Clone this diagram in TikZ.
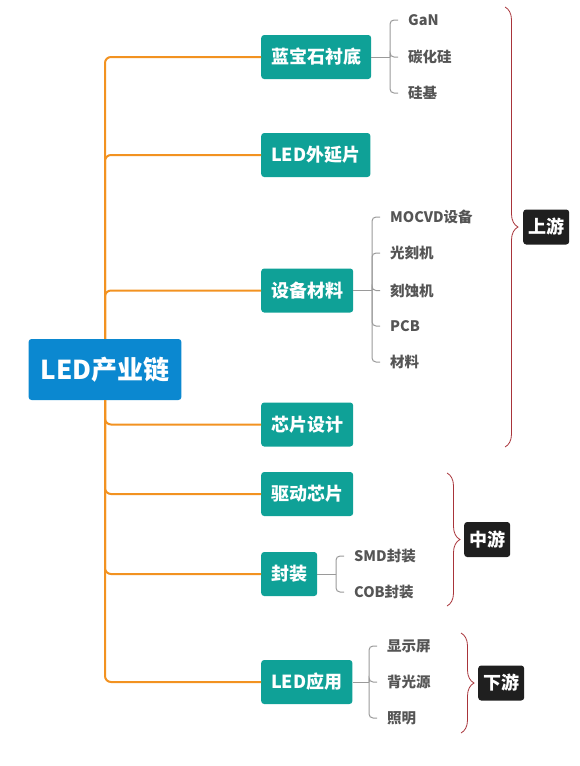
\documentclass[tikz,border=0pt]{standalone}
\usepackage{fontspec}
\setmainfont{Noto Sans CJK SC}
\usetikzlibrary{decorations.pathreplacing}
\definecolor{rootblue}{HTML}{0B88D0}
\definecolor{topicteal}{HTML}{0FA197}
\definecolor{branchorange}{HTML}{F29221}
\definecolor{twiggray}{HTML}{9A9A9A}
\definecolor{leafgray}{HTML}{555555}
\definecolor{bracered}{HTML}{A8343A}
\definecolor{stageblack}{HTML}{1F1F1F}

\begin{document}
\begin{tikzpicture}[x=1pt,y=-1pt,
  root/.style={fill=rootblue,text=white,rounded corners=3pt,minimum height=61pt,inner xsep=12pt,font=\fontsize{26}{28}\selectfont\bfseries},
  topic/.style={fill=topicteal,text=white,rounded corners=3pt,minimum height=44pt,inner xsep=10pt,anchor=west,font=\fontsize{18}{20}\selectfont\bfseries},
  leaf/.style={text=leafgray,anchor=west,inner xsep=10pt,inner ysep=1pt,font=\fontsize{14.5}{16}\selectfont\bfseries},
  stage/.style={fill=stageblack,text=white,rounded corners=3pt,minimum height=35pt,inner xsep=5pt,anchor=west,font=\fontsize{18}{20}\selectfont\bfseries},
  branch/.style={draw=branchorange,line width=2pt,rounded corners=6pt},
  twig/.style={draw=twiggray,line width=1pt,rounded corners=4pt},
  curly/.style={draw=bracered,line width=0.8pt,decorate,decoration={brace,amplitude=13pt}}]
\useasboundingbox (0,0) rectangle (580,766);

% root and topics
\node[root] (chain) at (105,369.5) {LED产业链};
\node[topic] (sapphire) at (261,57) {蓝宝石衬底};
\node[topic] (epi) at (261,155) {LED外延片};
\node[topic] (equip) at (261,290.5) {设备材料};
\node[topic] (chipdesign) at (261,424.5) {芯片设计};
\node[topic] (driver) at (261,494) {驱动芯片};
\node[topic] (package) at (261,574) {封装};
\node[topic] (app) at (261,682) {LED应用};

\foreach \t in {sapphire,epi,equip}
  \draw[branch] (chain.north) |- (\t.west);
\foreach \t in {chipdesign,driver,package,app}
  \draw[branch] (chain.south) |- (\t.west);

% leaves of 蓝宝石衬底
\coordinate (sapphire-j) at (390,57);
\node[leaf] (gan) at (398,20) {GaN};
\node[leaf] (sic) at (398,57) {碳化硅};
\node[leaf] (si) at (398,93) {硅基};
\draw[twig] (sapphire.east) -- (sapphire-j);
\foreach \l in {gan,sic,si}
  \draw[twig] (sapphire-j) |- (\l.west);

% leaves of 设备材料
\coordinate (equip-j) at (372,290.5);
\node[leaf] (mocvd) at (380,217) {MOCVD设备};
\node[leaf] (litho) at (380,253) {光刻机};
\node[leaf] (etch) at (380,290.5) {刻蚀机};
\node[leaf] (pcb) at (380,326) {PCB};
\node[leaf] (mat) at (380,362) {材料};
\draw[twig] (equip.east) -- (equip-j);
\foreach \l in {mocvd,litho,etch,pcb,mat}
  \draw[twig] (equip-j) |- (\l.west);

% leaves of 封装
\coordinate (package-j) at (336,574);
\node[leaf] (smd) at (344,556) {SMD封装};
\node[leaf] (cob) at (344,592) {COB封装};
\draw[twig] (package.east) -- (package-j);
\foreach \l in {smd,cob}
  \draw[twig] (package-j) |- (\l.west);

% leaves of LED应用
\coordinate (app-j) at (369,682);
\node[leaf] (screen) at (377,646) {显示屏};
\node[leaf] (backlight) at (377,682) {背光源};
\node[leaf] (lighting) at (377,718) {照明};
\draw[twig] (app.east) -- (app-j);
\foreach \l in {screen,backlight,lighting}
  \draw[twig] (app-j) |- (\l.west);

% stages
\coordinate (up-top) at (505,7);
\coordinate (up-bot) at (505,447);
\draw[curly] (up-top) -- (up-bot);
\node[stage] (upstream) at (523,227) {上游};

\coordinate (mid-top) at (447,473);
\coordinate (mid-bot) at (447,606);
\draw[curly] (mid-top) -- (mid-bot);
\node[stage] (midstream) at (464,539.5) {中游};

\coordinate (down-top) at (461,633);
\coordinate (down-bot) at (461,733);
\draw[curly] (down-top) -- (down-bot);
\node[stage] (downstream) at (478,683) {下游};
\end{tikzpicture}
\end{document}
